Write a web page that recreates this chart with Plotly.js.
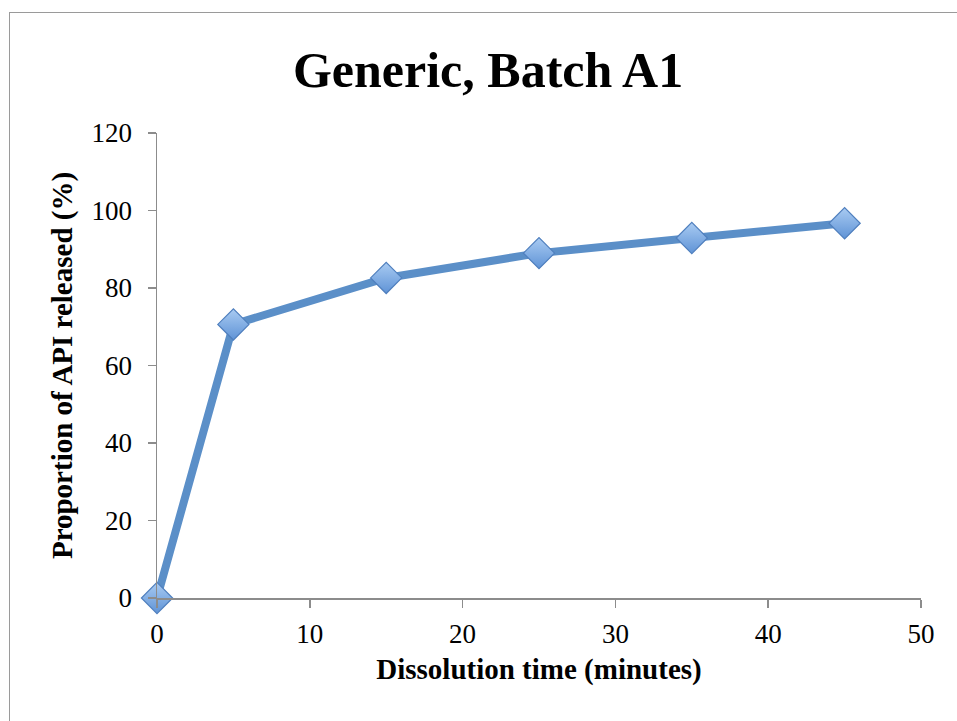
<!DOCTYPE html>
<html>
<head>
<meta charset="utf-8">
<script src="https://cdn.plot.ly/plotly-3.0.1.min.js"></script>
<style>
  html, body { margin: 0; padding: 0; background: #ffffff; }
  #wrap { position: relative; width: 957px; height: 721px; overflow: hidden; }
  #chart { position: absolute; left: 0; top: 0; width: 957px; height: 721px; }
  #frame { position: absolute; left: 9px; top: 12px; width: 1000px; height: 800px;
           border-left: 1.5px solid #9a9a9a; border-top: 1.5px solid #9a9a9a; pointer-events: none; }
</style>
</head>
<body>
<div id="wrap">
  <div id="chart"></div>
  <div id="frame"></div>
</div>
<script>
// Data
const dissolutionTime = [0, 5, 15, 25, 35, 45];          // minutes
const apiReleased     = [0, 70.6, 82.6, 89.0, 92.9, 96.7]; // %
const xTickValues = [0, 10, 20, 30, 40, 50];
const yTickValues = [0, 20, 40, 60, 80, 100, 120];

const chartTitle = 'Generic, Batch A1';
const xTitle = 'Dissolution time (minutes)';
const yTitle = 'Proportion of API released (%)';

const serif = '"Liberation Serif", "DejaVu Serif", serif';

const trace = {
  type: 'scatter',
  mode: 'lines+markers',
  x: dissolutionTime,
  y: apiReleased,
  line: { color: '#5B8FC8', width: 8 },
  marker: {
    symbol: 'diamond',
    size: 24,
    color: '#A9CBF2',
    gradient: { type: 'vertical', color: '#5F93D6' },
    line: { color: '#4F7FBE', width: 1.2 }
  },
  cliponaxis: false,
  hoverinfo: 'x+y'
};

const layout = {
  width: 957,
  height: 721,
  paper_bgcolor: '#ffffff',
  plot_bgcolor: '#ffffff',
  margin: { l: 157, r: 36, t: 133, b: 123 },
  showlegend: false,
  title: {
    text: '<b>' + chartTitle + '</b>',
    font: { family: serif, size: 50, color: '#000000' },
    x: 0.51, xref: 'container', xanchor: 'center',
    y: 0.928, yref: 'container', yanchor: 'top'
  },
  xaxis: {
    range: [0, 50],
    tickvals: xTickValues,
    ticktext: xTickValues.map(String),
    showgrid: false,
    zeroline: false,
    showline: true,
    linecolor: '#8c8c8c',
    linewidth: 1.5,
    ticks: 'outside',
    ticklen: 8,
    tickwidth: 1.5,
    tickcolor: '#8c8c8c',
    ticklabelstandoff: 3,
    tickfont: { family: serif, size: 27, color: '#000000' },
    title: {
      text: '<b>' + xTitle + '</b>',
      font: { family: serif, size: 29, color: '#000000' },
      standoff: 11
    }
  },
  yaxis: {
    range: [0, 120],
    tickvals: yTickValues,
    ticktext: yTickValues.map(String),
    showgrid: false,
    zeroline: false,
    showline: true,
    linecolor: '#8c8c8c',
    linewidth: 1.5,
    ticks: 'outside',
    ticklen: 8,
    tickwidth: 1.5,
    tickcolor: '#8c8c8c',
    ticklabelstandoff: 10,
    tickfont: { family: serif, size: 27, color: '#000000' },
    title: {
      text: '<b>' + yTitle + '</b>',
      font: { family: serif, size: 29, color: '#000000' },
      standoff: 10
    }
  }
};

Plotly.newPlot('chart', [trace], layout, { displayModeBar: false, staticPlot: true });
</script>
</body>
</html>
